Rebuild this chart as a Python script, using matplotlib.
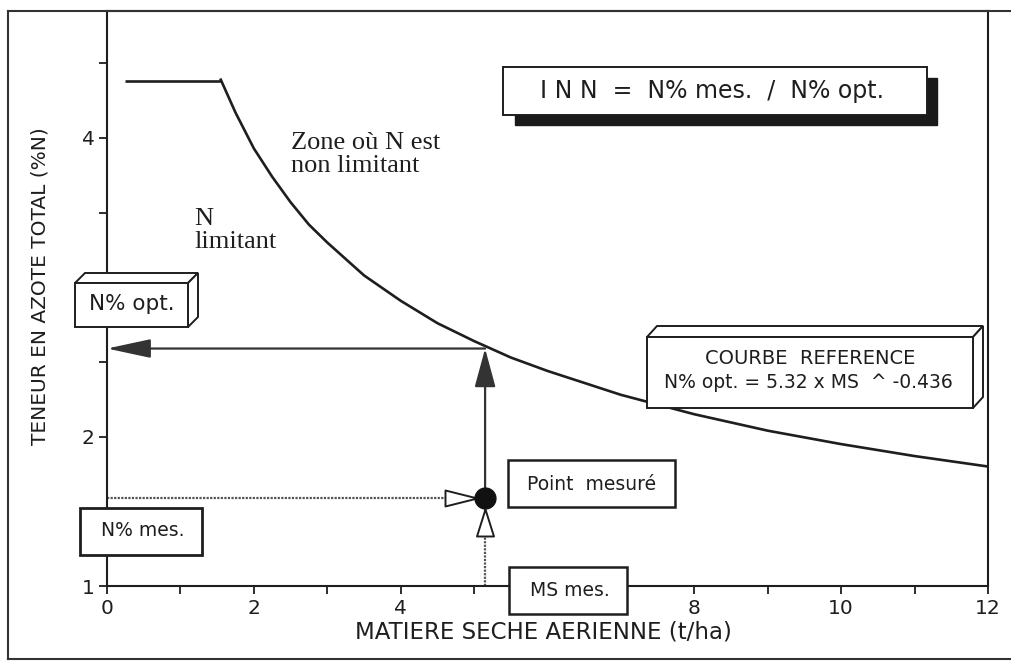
import numpy as np
import matplotlib.pyplot as plt
from matplotlib.patches import Rectangle, Polygon
from matplotlib.path import Path
from matplotlib.lines import Line2D

# reference curve N% opt = 5.32 x MS^-0.436
plateau_ms = [0.25, 1.55]
plateau_n = [4.38, 4.38]
curve_ms = [1.55, 1.75, 2.0, 2.25, 2.5, 2.75, 3.0, 3.5, 4.0, 4.5, 5.0, 5.5, 6.0, 7.0, 8.0, 9.0, 10.0, 11.0, 12.0]
curve_n = [4.39, 4.17, 3.93, 3.74, 3.57, 3.42, 3.30, 3.08, 2.91, 2.76, 2.64, 2.53, 2.44, 2.28, 2.15, 2.04, 1.95, 1.87, 1.80]

# measured point
ms_mes = 5.15
n_mes = 1.59
n_opt = 2.59

xticks = [0, 2, 4, 6, 8, 10, 12]
yticks = [1, 2, 4]  # the "3" label sits under the N% opt. box

W, H = 1012, 661
ink = "#1e1e1e"
grey = "#555555"
sans = "DejaVu Sans"
serif = ["Liberation Serif", "DejaVu Serif"]


def px(x, y):
    # pixel position (top-left origin) -> figure fraction
    return (x / W, 1 - y / H)


fig = plt.figure(figsize=(W / 100, H / 100), dpi=100)
ax = fig.add_axes([107 / W, 1 - 586 / H, (988 - 107) / W, (586 - 11) / H])
ax.set_xlim(0, 12)
ax.set_ylim(1, 4.85)

ax.plot(plateau_ms, plateau_n, color=ink, lw=1.9, solid_capstyle="butt")
ax.plot(curve_ms, curve_n, color=ink, lw=1.9)

# dotted guides from the measured point
ax.plot([0, ms_mes], [n_mes, n_mes], color=grey, lw=1.6, ls=(0, (1, 0.6)))
ax.plot([ms_mes, ms_mes], [1, n_mes], color=grey, lw=1.6, ls=(0, (1, 0.6)))

# arrows: point -> curve -> axis
ax.annotate("", xy=(ms_mes, n_opt), xytext=(ms_mes, n_mes),
            arrowprops=dict(arrowstyle="-|>,head_length=2.4,head_width=0.65", mutation_scale=10,
                            color="#333333", lw=1.6, shrinkA=0, shrinkB=0))
ax.annotate("", xy=(0, n_opt), xytext=(ms_mes, n_opt),
            arrowprops=dict(arrowstyle="-|>,head_length=2.7,head_width=0.58", mutation_scale=10,
                            color="#333333", lw=1.6, shrinkA=0, shrinkB=0))

# hollow pointers on the measured point
right_tri = Path([(-40, -8), (-40, 8), (-8, 0), (-40, -8)], closed=True)
up_tri = Path([(-8.5, -38), (8.5, -38), (0, -11), (-8.5, -38)], closed=True)
ax.plot(ms_mes, n_mes, marker=right_tri, ms=2 * 40 * 0.72, mfc="white", mec=ink, mew=1.4, zorder=4)
ax.plot(ms_mes, n_mes, marker=up_tri, ms=2 * 38 * 0.72, mfc="white", mec=ink, mew=1.4, zorder=4)
ax.plot(ms_mes, n_mes, marker="o", ms=15, color="#111111", zorder=5)

ax.set_xticks(xticks)
ax.set_xticks([1, 3, 5, 7, 9, 11], minor=True)
ax.set_yticks(yticks)
ax.set_yticks([1.5, 2.5, 3, 3.5, 4.5], minor=True)
ax.tick_params(which="both", direction="out", length=5.5, width=1.3, color=ink,
               labelsize=14.5, labelcolor=ink, pad=3.5)
for lab in ax.get_xticklabels() + ax.get_yticklabels():
    lab.set_family(sans)
for s in ax.spines.values():
    s.set_color(ink)
    s.set_linewidth(1.5)

fig.text(*px(543, 632), "MATIERE SECHE AERIENNE (t/ha)", ha="center", va="center",
         fontsize=16.5, family=sans, color=ink)
fig.text(*px(40, 286), "TENEUR EN AZOTE TOTAL (%N)", ha="center", va="center",
         rotation=90, fontsize=14.5, family=sans, color=ink)

# outer frame of the scanned figure
for xs, ys in [((8, W), (11, 11)), ((8, 8), (11, 659)), ((8, W), (659, 659))]:
    fig.add_artist(Line2D([x / W for x in xs], [1 - y / H for y in ys], color="#333333", lw=1.5))

# serif annotations
fig.text(*px(291, 132), "Zone où N est\nnon limitant", ha="left", va="top",
         fontsize=19, family=serif, color=ink, linespacing=1.05)
fig.text(*px(194, 208), "N\nlimitant", ha="left", va="top",
         fontsize=19, family=serif, color=ink, linespacing=1.05)


def flat_box(x0, y0, x1, y1, lw=1.6):
    (fx0, fy1), (fx1, fy0) = px(x0, y0), px(x1, y1)
    fig.add_artist(Rectangle((fx0, fy0), fx1 - fx0, fy1 - fy0, transform=fig.transFigure,
                             fc="white", ec=ink, lw=lw, zorder=2))


def box_3d(x0, y0, x1, y1, dx, dy):
    top = [px(x0, y0), px(x0 + dx, y0 - dy), px(x1 + dx, y0 - dy), px(x1, y0)]
    side = [px(x1, y0), px(x1 + dx, y0 - dy), px(x1 + dx, y1 - dy), px(x1, y1)]
    for poly in (top, side):
        fig.add_artist(Polygon(poly, closed=True, transform=fig.transFigure,
                               fc="white", ec=ink, lw=1.4, zorder=2))
    flat_box(x0, y0, x1, y1, lw=1.4)


# INN box with drop shadow
(sx0, sy1), (sx1, sy0) = px(515, 78), px(937, 125)
fig.add_artist(Rectangle((sx0, sy0), sx1 - sx0, sy1 - sy0, transform=fig.transFigure,
                         fc="#1a1a1a", ec="#1a1a1a", lw=1, zorder=2))
flat_box(503, 67, 927, 115, lw=1.4)
fig.text(*px(712, 91), "I N N  =  N% mes.  /  N% opt.", ha="center", va="center",
         fontsize=17, family=sans, color=ink, zorder=3)

box_3d(75, 283, 188, 327, 10, 10)
fig.text(*px(132, 304), "N% opt.", ha="center", va="center", fontsize=15.5, family=sans, color=ink, zorder=3)

box_3d(647, 337, 973, 408, 10, 11)
fig.text(*px(810, 359), "COURBE  REFERENCE", ha="center", va="center", fontsize=14, family=sans, color=ink, zorder=3)
fig.text(*px(808, 382), "N% opt. = 5.32 x MS  ^ -0.436", ha="center", va="center", fontsize=13.5, family=sans, color=ink, zorder=3)

flat_box(80, 508, 202, 555, lw=2)
fig.text(*px(143, 531), "N% mes.", ha="center", va="center", fontsize=13.5, family=sans, color=ink, zorder=3)

flat_box(508, 460, 675, 507, lw=1.8)
fig.text(*px(592, 484), "Point  mesuré", ha="center", va="center", fontsize=13.5, family=sans, color=ink, zorder=3)

flat_box(509, 567, 627, 614, lw=1.8)
fig.text(*px(570, 590), "MS mes.", ha="center", va="center", fontsize=13.5, family=sans, color=ink, zorder=3)

fig.savefig("out.png", dpi=100, facecolor="white")
